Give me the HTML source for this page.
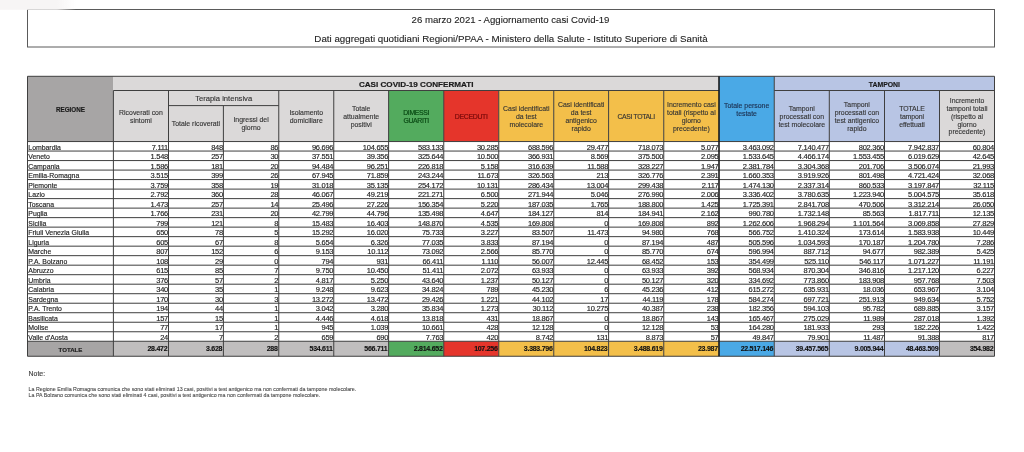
<!DOCTYPE html>
<html><head><meta charset="utf-8"><style>
html,body{margin:0;padding:0;background:#fff;}
body{width:1024px;height:452px;position:relative;overflow:hidden;font-family:"Liberation Sans",sans-serif;color:#222;-webkit-text-stroke:0.15px currentColor;}
svg{position:absolute;left:0;top:0;}
.c{position:absolute;display:flex;align-items:center;justify-content:center;text-align:center;box-sizing:border-box;}
.h{font-size:6.9px;line-height:7.8px;color:#333;padding-top:1.4px;-webkit-text-stroke:0.12px #333;}
.hb{font-weight:bold;color:#1a1a1a;}
.rn{position:absolute;left:28.3px;height:9.5px;line-height:12.9px;font-size:6.9px;color:#222;white-space:nowrap;}
.n{position:absolute;height:9.5px;line-height:12.1px;font-size:7.5px;letter-spacing:-0.27px;text-align:right;color:#222;white-space:nowrap;}
.tb{font-weight:bold;font-size:7px;color:#111;-webkit-text-stroke:0.12px #111;}
.t1{position:absolute;left:0;width:1024px;text-align:center;font-size:9.6px;color:#222;white-space:nowrap;-webkit-text-stroke:0.1px #222;}
.note{position:absolute;left:28.6px;white-space:nowrap;color:#444;-webkit-text-stroke:0.1px #555;}
</style></head><body><div id="wrap" style="position:absolute;left:0;top:0;width:1024px;height:452px;will-change:transform;">
<svg width="1024" height="452" viewBox="0 0 1024 452">
<defs><linearGradient id="g1" x1="0" x2="1" y1="0" y2="0"><stop offset="0" stop-color="#f7f5f5"/><stop offset="0.75" stop-color="#f7f5f5"/><stop offset="1" stop-color="#f7f5f5" stop-opacity="0"/></linearGradient></defs>
<rect x="27.5" y="9.5" width="967" height="37.5" fill="none" stroke="#5a5a5a" stroke-width="1"/>
<rect x="0" y="0" width="76" height="9.8" fill="url(#g1)"/>
<rect x="27.50" y="76.30" width="85.90" height="65.25" fill="#a7a5a5"/>
<rect x="113.40" y="76.30" width="605.60" height="14.20" fill="#dbd9d9"/>
<rect x="719.00" y="76.30" width="55.25" height="65.25" fill="#4aa9e6"/>
<rect x="774.25" y="76.30" width="220.25" height="14.20" fill="#b8c5e4"/>
<rect x="113.40" y="90.50" width="55.10" height="51.05" fill="#dbd9d9"/>
<rect x="168.50" y="90.50" width="54.90" height="51.05" fill="#dbd9d9"/>
<rect x="223.40" y="90.50" width="55.35" height="51.05" fill="#dbd9d9"/>
<rect x="278.75" y="90.50" width="55.00" height="51.05" fill="#dbd9d9"/>
<rect x="333.75" y="90.50" width="54.85" height="51.05" fill="#dbd9d9"/>
<rect x="388.60" y="90.50" width="55.15" height="51.05" fill="#53ab5e"/>
<rect x="443.75" y="90.50" width="55.00" height="51.05" fill="#e5352b"/>
<rect x="498.75" y="90.50" width="55.00" height="51.05" fill="#f3bf4a"/>
<rect x="553.75" y="90.50" width="54.85" height="51.05" fill="#f3bf4a"/>
<rect x="608.60" y="90.50" width="55.15" height="51.05" fill="#f3bf4a"/>
<rect x="663.75" y="90.50" width="55.25" height="51.05" fill="#f3bf4a"/>
<rect x="774.25" y="90.50" width="55.05" height="51.05" fill="#b8c5e4"/>
<rect x="829.30" y="90.50" width="55.20" height="51.05" fill="#b8c5e4"/>
<rect x="884.50" y="90.50" width="55.00" height="51.05" fill="#b8c5e4"/>
<rect x="939.50" y="90.50" width="55.00" height="51.05" fill="#dbd9d9"/>
<rect x="27.50" y="341.26" width="85.90" height="15.00" fill="#a7a5a5"/>
<rect x="113.40" y="341.26" width="55.10" height="15.00" fill="#c0bebe"/>
<rect x="168.50" y="341.26" width="54.90" height="15.00" fill="#c0bebe"/>
<rect x="223.40" y="341.26" width="55.35" height="15.00" fill="#c0bebe"/>
<rect x="278.75" y="341.26" width="55.00" height="15.00" fill="#c0bebe"/>
<rect x="333.75" y="341.26" width="54.85" height="15.00" fill="#c0bebe"/>
<rect x="388.60" y="341.26" width="55.15" height="15.00" fill="#53ab5e"/>
<rect x="443.75" y="341.26" width="55.00" height="15.00" fill="#e5352b"/>
<rect x="498.75" y="341.26" width="55.00" height="15.00" fill="#f3bf4a"/>
<rect x="553.75" y="341.26" width="54.85" height="15.00" fill="#f3bf4a"/>
<rect x="608.60" y="341.26" width="55.15" height="15.00" fill="#f3bf4a"/>
<rect x="663.75" y="341.26" width="55.25" height="15.00" fill="#f3bf4a"/>
<rect x="719.00" y="341.26" width="55.25" height="15.00" fill="#4aa9e6"/>
<rect x="774.25" y="341.26" width="55.05" height="15.00" fill="#b8c5e4"/>
<rect x="829.30" y="341.26" width="55.20" height="15.00" fill="#b8c5e4"/>
<rect x="884.50" y="341.26" width="55.00" height="15.00" fill="#b8c5e4"/>
<rect x="939.50" y="341.26" width="55.00" height="15.00" fill="#c0bebe"/>
<line x1="27.50" y1="76.30" x2="994.50" y2="76.30" stroke="#3f3f3f" stroke-width="1"/>
<line x1="27.50" y1="356.26" x2="994.50" y2="356.26" stroke="#3f3f3f" stroke-width="1"/>
<line x1="27.50" y1="76.30" x2="27.50" y2="356.26" stroke="#3f3f3f" stroke-width="1"/>
<line x1="994.50" y1="76.30" x2="994.50" y2="356.26" stroke="#3f3f3f" stroke-width="1"/>
<line x1="113.40" y1="90.50" x2="719.00" y2="90.50" stroke="#3f3f3f" stroke-width="1"/>
<line x1="774.25" y1="90.50" x2="994.50" y2="90.50" stroke="#3f3f3f" stroke-width="1"/>
<line x1="168.50" y1="105.60" x2="278.75" y2="105.60" stroke="#3f3f3f" stroke-width="1"/>
<line x1="27.50" y1="141.55" x2="994.50" y2="141.55" stroke="#3f3f3f" stroke-width="1"/>
<line x1="27.50" y1="151.06" x2="994.50" y2="151.06" stroke="#3f3f3f" stroke-width="1"/>
<line x1="27.50" y1="160.57" x2="994.50" y2="160.57" stroke="#3f3f3f" stroke-width="1"/>
<line x1="27.50" y1="170.08" x2="994.50" y2="170.08" stroke="#3f3f3f" stroke-width="1"/>
<line x1="27.50" y1="179.59" x2="994.50" y2="179.59" stroke="#3f3f3f" stroke-width="1"/>
<line x1="27.50" y1="189.10" x2="994.50" y2="189.10" stroke="#3f3f3f" stroke-width="1"/>
<line x1="27.50" y1="198.61" x2="994.50" y2="198.61" stroke="#3f3f3f" stroke-width="1"/>
<line x1="27.50" y1="208.12" x2="994.50" y2="208.12" stroke="#3f3f3f" stroke-width="1"/>
<line x1="27.50" y1="217.63" x2="994.50" y2="217.63" stroke="#3f3f3f" stroke-width="1"/>
<line x1="27.50" y1="227.14" x2="994.50" y2="227.14" stroke="#3f3f3f" stroke-width="1"/>
<line x1="27.50" y1="236.65" x2="994.50" y2="236.65" stroke="#3f3f3f" stroke-width="1"/>
<line x1="27.50" y1="246.16" x2="994.50" y2="246.16" stroke="#3f3f3f" stroke-width="1"/>
<line x1="27.50" y1="255.67" x2="994.50" y2="255.67" stroke="#3f3f3f" stroke-width="1"/>
<line x1="27.50" y1="265.18" x2="994.50" y2="265.18" stroke="#3f3f3f" stroke-width="1"/>
<line x1="27.50" y1="274.69" x2="994.50" y2="274.69" stroke="#3f3f3f" stroke-width="1"/>
<line x1="27.50" y1="284.20" x2="994.50" y2="284.20" stroke="#3f3f3f" stroke-width="1"/>
<line x1="27.50" y1="293.71" x2="994.50" y2="293.71" stroke="#3f3f3f" stroke-width="1"/>
<line x1="27.50" y1="303.22" x2="994.50" y2="303.22" stroke="#3f3f3f" stroke-width="1"/>
<line x1="27.50" y1="312.73" x2="994.50" y2="312.73" stroke="#3f3f3f" stroke-width="1"/>
<line x1="27.50" y1="322.24" x2="994.50" y2="322.24" stroke="#3f3f3f" stroke-width="1"/>
<line x1="27.50" y1="331.75" x2="994.50" y2="331.75" stroke="#3f3f3f" stroke-width="1"/>
<line x1="27.50" y1="341.26" x2="994.50" y2="341.26" stroke="#3f3f3f" stroke-width="1"/>
<line x1="113.40" y1="90.50" x2="113.40" y2="356.26" stroke="#3f3f3f" stroke-width="1"/>
<line x1="168.50" y1="90.50" x2="168.50" y2="356.26" stroke="#3f3f3f" stroke-width="1"/>
<line x1="223.40" y1="105.60" x2="223.40" y2="356.26" stroke="#3f3f3f" stroke-width="1"/>
<line x1="278.75" y1="90.50" x2="278.75" y2="356.26" stroke="#3f3f3f" stroke-width="1"/>
<line x1="333.75" y1="90.50" x2="333.75" y2="356.26" stroke="#3f3f3f" stroke-width="1"/>
<line x1="388.60" y1="90.50" x2="388.60" y2="356.26" stroke="#3f3f3f" stroke-width="1"/>
<line x1="443.75" y1="90.50" x2="443.75" y2="356.26" stroke="#3f3f3f" stroke-width="1"/>
<line x1="498.75" y1="90.50" x2="498.75" y2="356.26" stroke="#3f3f3f" stroke-width="1"/>
<line x1="553.75" y1="90.50" x2="553.75" y2="356.26" stroke="#3f3f3f" stroke-width="1"/>
<line x1="608.60" y1="90.50" x2="608.60" y2="356.26" stroke="#3f3f3f" stroke-width="1"/>
<line x1="663.75" y1="90.50" x2="663.75" y2="356.26" stroke="#3f3f3f" stroke-width="1"/>
<line x1="719.00" y1="76.30" x2="719.00" y2="356.26" stroke="#1a1a1a" stroke-width="1.6"/>
<line x1="774.25" y1="76.30" x2="774.25" y2="356.26" stroke="#3f3f3f" stroke-width="1"/>
<line x1="829.30" y1="90.50" x2="829.30" y2="356.26" stroke="#3f3f3f" stroke-width="1"/>
<line x1="884.50" y1="90.50" x2="884.50" y2="356.26" stroke="#3f3f3f" stroke-width="1"/>
<line x1="939.50" y1="90.50" x2="939.50" y2="356.26" stroke="#3f3f3f" stroke-width="1"/>
</svg>
<div class="t1" style="top:14px;left:-1.5px;line-height:12px;">26 marzo 2021 - Aggiornamento casi Covid-19</div>
<div class="t1" style="top:33px;left:-1px;line-height:12px;font-size:9.75px">Dati aggregati quotidiani Regioni/PPAA - Ministero della Salute - Istituto Superiore di Sanità</div>
<div class="c hb" style="left:27.50px;top:76.30px;width:85.90px;height:65.25px;font-size:6.3px;padding-top:1.6px">REGIONE</div>
<div class="c hb" style="left:113.40px;top:76.30px;width:605.60px;height:14.20px;font-size:8.1px;padding-top:2.2px;-webkit-text-stroke:0.2px #1a1a1a">CASI COVID-19 CONFERMATI</div>
<div class="c hb" style="left:774.25px;top:76.30px;width:220.25px;height:14.20px;font-size:6.9px;padding-top:2px">TAMPONI</div>
<div class="c h" style="left:168.50px;top:90.50px;width:110.25px;height:15.10px;font-size:7.6px">Terapia intensiva</div>
<div class="c h" style="left:113.40px;top:90.50px;width:55.10px;height:51.05px;">Ricoverati con<br>sintomi</div>
<div class="c h" style="left:168.50px;top:105.60px;width:54.90px;height:35.95px;">Totale ricoverati</div>
<div class="c h" style="left:223.40px;top:105.60px;width:55.35px;height:35.95px;">Ingressi del<br>giorno</div>
<div class="c h" style="left:278.75px;top:90.50px;width:55.00px;height:51.05px;">Isolamento<br>domiciliare</div>
<div class="c h" style="left:333.75px;top:90.50px;width:54.85px;height:51.05px;">Totale<br>attualmente<br>positivi</div>
<div class="c h" style="left:388.60px;top:90.50px;width:55.15px;height:51.05px;color:#0a4a14;letter-spacing:-0.35px;-webkit-text-stroke:0.2px #0a4a14">DIMESSI<br>GUARITI</div>
<div class="c h" style="left:443.75px;top:90.50px;width:55.00px;height:51.05px;color:#7a0a0a;letter-spacing:-0.3px;-webkit-text-stroke:0.2px #7a0a0a">DECEDUTI</div>
<div class="c h" style="left:498.75px;top:90.50px;width:55.00px;height:51.05px;">Casi identificati<br>da test<br>molecolare</div>
<div class="c h" style="left:553.75px;top:90.50px;width:54.85px;height:51.05px;">Casi identificati<br>da test<br>antigenico<br>rapido</div>
<div class="c h" style="left:608.60px;top:90.50px;width:55.15px;height:51.05px;letter-spacing:-0.35px">CASI TOTALI</div>
<div class="c h" style="left:663.75px;top:90.50px;width:55.25px;height:51.05px;">Incremento casi<br>totali (rispetto al<br>giorno<br>precedente)</div>
<div class="c h" style="left:719.00px;top:76.30px;width:55.25px;height:65.25px;color:#1c2f4f;-webkit-text-stroke:0.12px #1c2f4f">Totale persone<br>testate</div>
<div class="c h" style="left:774.25px;top:90.50px;width:55.05px;height:51.05px;">Tamponi<br>processati con<br>test molecolare</div>
<div class="c h" style="left:829.30px;top:90.50px;width:55.20px;height:51.05px;">Tamponi<br>processati con<br>test antigenico<br>rapido</div>
<div class="c h" style="left:884.50px;top:90.50px;width:55.00px;height:51.05px;letter-spacing:-0.1px">TOTALE<br>tamponi<br>effettuati</div>
<div class="c h" style="left:939.50px;top:90.50px;width:55.00px;height:51.05px;">Incremento<br>tamponi totali<br>(rispetto al<br>giorno<br>precedente)</div>
<div class="rn" style="top:141.55px">Lombardia</div>
<div class="n" style="left:113.40px;top:141.55px;width:54.60px">7.111</div>
<div class="n" style="left:168.50px;top:141.55px;width:54.40px">848</div>
<div class="n" style="left:223.40px;top:141.55px;width:54.85px">86</div>
<div class="n" style="left:278.75px;top:141.55px;width:54.50px">96.696</div>
<div class="n" style="left:333.75px;top:141.55px;width:54.35px">104.655</div>
<div class="n" style="left:388.60px;top:141.55px;width:54.65px">583.133</div>
<div class="n" style="left:443.75px;top:141.55px;width:54.50px">30.285</div>
<div class="n" style="left:498.75px;top:141.55px;width:54.50px">688.596</div>
<div class="n" style="left:553.75px;top:141.55px;width:54.35px">29.477</div>
<div class="n" style="left:608.60px;top:141.55px;width:54.65px">718.073</div>
<div class="n" style="left:663.75px;top:141.55px;width:54.75px">5.077</div>
<div class="n" style="left:719.00px;top:141.55px;width:54.75px">3.463.092</div>
<div class="n" style="left:774.25px;top:141.55px;width:54.55px">7.140.477</div>
<div class="n" style="left:829.30px;top:141.55px;width:54.70px">802.360</div>
<div class="n" style="left:884.50px;top:141.55px;width:54.50px">7.942.837</div>
<div class="n" style="left:939.50px;top:141.55px;width:54.50px">60.804</div>
<div class="rn" style="top:151.06px">Veneto</div>
<div class="n" style="left:113.40px;top:151.06px;width:54.60px">1.548</div>
<div class="n" style="left:168.50px;top:151.06px;width:54.40px">257</div>
<div class="n" style="left:223.40px;top:151.06px;width:54.85px">30</div>
<div class="n" style="left:278.75px;top:151.06px;width:54.50px">37.551</div>
<div class="n" style="left:333.75px;top:151.06px;width:54.35px">39.356</div>
<div class="n" style="left:388.60px;top:151.06px;width:54.65px">325.644</div>
<div class="n" style="left:443.75px;top:151.06px;width:54.50px">10.500</div>
<div class="n" style="left:498.75px;top:151.06px;width:54.50px">366.931</div>
<div class="n" style="left:553.75px;top:151.06px;width:54.35px">8.569</div>
<div class="n" style="left:608.60px;top:151.06px;width:54.65px">375.500</div>
<div class="n" style="left:663.75px;top:151.06px;width:54.75px">2.095</div>
<div class="n" style="left:719.00px;top:151.06px;width:54.75px">1.533.645</div>
<div class="n" style="left:774.25px;top:151.06px;width:54.55px">4.466.174</div>
<div class="n" style="left:829.30px;top:151.06px;width:54.70px">1.553.455</div>
<div class="n" style="left:884.50px;top:151.06px;width:54.50px">6.019.629</div>
<div class="n" style="left:939.50px;top:151.06px;width:54.50px">42.645</div>
<div class="rn" style="top:160.57px">Campania</div>
<div class="n" style="left:113.40px;top:160.57px;width:54.60px">1.586</div>
<div class="n" style="left:168.50px;top:160.57px;width:54.40px">181</div>
<div class="n" style="left:223.40px;top:160.57px;width:54.85px">20</div>
<div class="n" style="left:278.75px;top:160.57px;width:54.50px">94.484</div>
<div class="n" style="left:333.75px;top:160.57px;width:54.35px">96.251</div>
<div class="n" style="left:388.60px;top:160.57px;width:54.65px">226.818</div>
<div class="n" style="left:443.75px;top:160.57px;width:54.50px">5.158</div>
<div class="n" style="left:498.75px;top:160.57px;width:54.50px">316.639</div>
<div class="n" style="left:553.75px;top:160.57px;width:54.35px">11.588</div>
<div class="n" style="left:608.60px;top:160.57px;width:54.65px">328.227</div>
<div class="n" style="left:663.75px;top:160.57px;width:54.75px">1.947</div>
<div class="n" style="left:719.00px;top:160.57px;width:54.75px">2.381.784</div>
<div class="n" style="left:774.25px;top:160.57px;width:54.55px">3.304.368</div>
<div class="n" style="left:829.30px;top:160.57px;width:54.70px">201.706</div>
<div class="n" style="left:884.50px;top:160.57px;width:54.50px">3.506.074</div>
<div class="n" style="left:939.50px;top:160.57px;width:54.50px">21.993</div>
<div class="rn" style="top:170.08px">Emilia-Romagna</div>
<div class="n" style="left:113.40px;top:170.08px;width:54.60px">3.515</div>
<div class="n" style="left:168.50px;top:170.08px;width:54.40px">399</div>
<div class="n" style="left:223.40px;top:170.08px;width:54.85px">26</div>
<div class="n" style="left:278.75px;top:170.08px;width:54.50px">67.945</div>
<div class="n" style="left:333.75px;top:170.08px;width:54.35px">71.859</div>
<div class="n" style="left:388.60px;top:170.08px;width:54.65px">243.244</div>
<div class="n" style="left:443.75px;top:170.08px;width:54.50px">11.673</div>
<div class="n" style="left:498.75px;top:170.08px;width:54.50px">326.563</div>
<div class="n" style="left:553.75px;top:170.08px;width:54.35px">213</div>
<div class="n" style="left:608.60px;top:170.08px;width:54.65px">326.776</div>
<div class="n" style="left:663.75px;top:170.08px;width:54.75px">2.391</div>
<div class="n" style="left:719.00px;top:170.08px;width:54.75px">1.660.353</div>
<div class="n" style="left:774.25px;top:170.08px;width:54.55px">3.919.926</div>
<div class="n" style="left:829.30px;top:170.08px;width:54.70px">801.498</div>
<div class="n" style="left:884.50px;top:170.08px;width:54.50px">4.721.424</div>
<div class="n" style="left:939.50px;top:170.08px;width:54.50px">32.068</div>
<div class="rn" style="top:179.59px">Piemonte</div>
<div class="n" style="left:113.40px;top:179.59px;width:54.60px">3.759</div>
<div class="n" style="left:168.50px;top:179.59px;width:54.40px">358</div>
<div class="n" style="left:223.40px;top:179.59px;width:54.85px">19</div>
<div class="n" style="left:278.75px;top:179.59px;width:54.50px">31.018</div>
<div class="n" style="left:333.75px;top:179.59px;width:54.35px">35.135</div>
<div class="n" style="left:388.60px;top:179.59px;width:54.65px">254.172</div>
<div class="n" style="left:443.75px;top:179.59px;width:54.50px">10.131</div>
<div class="n" style="left:498.75px;top:179.59px;width:54.50px">286.434</div>
<div class="n" style="left:553.75px;top:179.59px;width:54.35px">13.004</div>
<div class="n" style="left:608.60px;top:179.59px;width:54.65px">299.438</div>
<div class="n" style="left:663.75px;top:179.59px;width:54.75px">2.117</div>
<div class="n" style="left:719.00px;top:179.59px;width:54.75px">1.474.130</div>
<div class="n" style="left:774.25px;top:179.59px;width:54.55px">2.337.314</div>
<div class="n" style="left:829.30px;top:179.59px;width:54.70px">860.533</div>
<div class="n" style="left:884.50px;top:179.59px;width:54.50px">3.197.847</div>
<div class="n" style="left:939.50px;top:179.59px;width:54.50px">32.115</div>
<div class="rn" style="top:189.10px">Lazio</div>
<div class="n" style="left:113.40px;top:189.10px;width:54.60px">2.792</div>
<div class="n" style="left:168.50px;top:189.10px;width:54.40px">360</div>
<div class="n" style="left:223.40px;top:189.10px;width:54.85px">28</div>
<div class="n" style="left:278.75px;top:189.10px;width:54.50px">46.067</div>
<div class="n" style="left:333.75px;top:189.10px;width:54.35px">49.219</div>
<div class="n" style="left:388.60px;top:189.10px;width:54.65px">221.271</div>
<div class="n" style="left:443.75px;top:189.10px;width:54.50px">6.500</div>
<div class="n" style="left:498.75px;top:189.10px;width:54.50px">271.944</div>
<div class="n" style="left:553.75px;top:189.10px;width:54.35px">5.046</div>
<div class="n" style="left:608.60px;top:189.10px;width:54.65px">276.990</div>
<div class="n" style="left:663.75px;top:189.10px;width:54.75px">2.006</div>
<div class="n" style="left:719.00px;top:189.10px;width:54.75px">3.336.402</div>
<div class="n" style="left:774.25px;top:189.10px;width:54.55px">3.780.635</div>
<div class="n" style="left:829.30px;top:189.10px;width:54.70px">1.223.940</div>
<div class="n" style="left:884.50px;top:189.10px;width:54.50px">5.004.575</div>
<div class="n" style="left:939.50px;top:189.10px;width:54.50px">35.618</div>
<div class="rn" style="top:198.61px">Toscana</div>
<div class="n" style="left:113.40px;top:198.61px;width:54.60px">1.473</div>
<div class="n" style="left:168.50px;top:198.61px;width:54.40px">257</div>
<div class="n" style="left:223.40px;top:198.61px;width:54.85px">14</div>
<div class="n" style="left:278.75px;top:198.61px;width:54.50px">25.496</div>
<div class="n" style="left:333.75px;top:198.61px;width:54.35px">27.226</div>
<div class="n" style="left:388.60px;top:198.61px;width:54.65px">156.354</div>
<div class="n" style="left:443.75px;top:198.61px;width:54.50px">5.220</div>
<div class="n" style="left:498.75px;top:198.61px;width:54.50px">187.035</div>
<div class="n" style="left:553.75px;top:198.61px;width:54.35px">1.765</div>
<div class="n" style="left:608.60px;top:198.61px;width:54.65px">188.800</div>
<div class="n" style="left:663.75px;top:198.61px;width:54.75px">1.425</div>
<div class="n" style="left:719.00px;top:198.61px;width:54.75px">1.725.391</div>
<div class="n" style="left:774.25px;top:198.61px;width:54.55px">2.841.708</div>
<div class="n" style="left:829.30px;top:198.61px;width:54.70px">470.506</div>
<div class="n" style="left:884.50px;top:198.61px;width:54.50px">3.312.214</div>
<div class="n" style="left:939.50px;top:198.61px;width:54.50px">26.050</div>
<div class="rn" style="top:208.12px">Puglia</div>
<div class="n" style="left:113.40px;top:208.12px;width:54.60px">1.766</div>
<div class="n" style="left:168.50px;top:208.12px;width:54.40px">231</div>
<div class="n" style="left:223.40px;top:208.12px;width:54.85px">20</div>
<div class="n" style="left:278.75px;top:208.12px;width:54.50px">42.799</div>
<div class="n" style="left:333.75px;top:208.12px;width:54.35px">44.796</div>
<div class="n" style="left:388.60px;top:208.12px;width:54.65px">135.498</div>
<div class="n" style="left:443.75px;top:208.12px;width:54.50px">4.647</div>
<div class="n" style="left:498.75px;top:208.12px;width:54.50px">184.127</div>
<div class="n" style="left:553.75px;top:208.12px;width:54.35px">814</div>
<div class="n" style="left:608.60px;top:208.12px;width:54.65px">184.941</div>
<div class="n" style="left:663.75px;top:208.12px;width:54.75px">2.162</div>
<div class="n" style="left:719.00px;top:208.12px;width:54.75px">990.780</div>
<div class="n" style="left:774.25px;top:208.12px;width:54.55px">1.732.148</div>
<div class="n" style="left:829.30px;top:208.12px;width:54.70px">85.563</div>
<div class="n" style="left:884.50px;top:208.12px;width:54.50px">1.817.711</div>
<div class="n" style="left:939.50px;top:208.12px;width:54.50px">12.135</div>
<div class="rn" style="top:217.63px">Sicilia</div>
<div class="n" style="left:113.40px;top:217.63px;width:54.60px">799</div>
<div class="n" style="left:168.50px;top:217.63px;width:54.40px">121</div>
<div class="n" style="left:223.40px;top:217.63px;width:54.85px">8</div>
<div class="n" style="left:278.75px;top:217.63px;width:54.50px">15.483</div>
<div class="n" style="left:333.75px;top:217.63px;width:54.35px">16.403</div>
<div class="n" style="left:388.60px;top:217.63px;width:54.65px">148.870</div>
<div class="n" style="left:443.75px;top:217.63px;width:54.50px">4.535</div>
<div class="n" style="left:498.75px;top:217.63px;width:54.50px">169.808</div>
<div class="n" style="left:553.75px;top:217.63px;width:54.35px">0</div>
<div class="n" style="left:608.60px;top:217.63px;width:54.65px">169.808</div>
<div class="n" style="left:663.75px;top:217.63px;width:54.75px">892</div>
<div class="n" style="left:719.00px;top:217.63px;width:54.75px">1.262.606</div>
<div class="n" style="left:774.25px;top:217.63px;width:54.55px">1.968.294</div>
<div class="n" style="left:829.30px;top:217.63px;width:54.70px">1.101.564</div>
<div class="n" style="left:884.50px;top:217.63px;width:54.50px">3.069.858</div>
<div class="n" style="left:939.50px;top:217.63px;width:54.50px">27.829</div>
<div class="rn" style="top:227.14px">Friuli Venezia Giulia</div>
<div class="n" style="left:113.40px;top:227.14px;width:54.60px">650</div>
<div class="n" style="left:168.50px;top:227.14px;width:54.40px">78</div>
<div class="n" style="left:223.40px;top:227.14px;width:54.85px">5</div>
<div class="n" style="left:278.75px;top:227.14px;width:54.50px">15.292</div>
<div class="n" style="left:333.75px;top:227.14px;width:54.35px">16.020</div>
<div class="n" style="left:388.60px;top:227.14px;width:54.65px">75.733</div>
<div class="n" style="left:443.75px;top:227.14px;width:54.50px">3.227</div>
<div class="n" style="left:498.75px;top:227.14px;width:54.50px">83.507</div>
<div class="n" style="left:553.75px;top:227.14px;width:54.35px">11.473</div>
<div class="n" style="left:608.60px;top:227.14px;width:54.65px">94.980</div>
<div class="n" style="left:663.75px;top:227.14px;width:54.75px">768</div>
<div class="n" style="left:719.00px;top:227.14px;width:54.75px">566.752</div>
<div class="n" style="left:774.25px;top:227.14px;width:54.55px">1.410.324</div>
<div class="n" style="left:829.30px;top:227.14px;width:54.70px">173.614</div>
<div class="n" style="left:884.50px;top:227.14px;width:54.50px">1.583.938</div>
<div class="n" style="left:939.50px;top:227.14px;width:54.50px">10.449</div>
<div class="rn" style="top:236.65px">Liguria</div>
<div class="n" style="left:113.40px;top:236.65px;width:54.60px">605</div>
<div class="n" style="left:168.50px;top:236.65px;width:54.40px">67</div>
<div class="n" style="left:223.40px;top:236.65px;width:54.85px">8</div>
<div class="n" style="left:278.75px;top:236.65px;width:54.50px">5.654</div>
<div class="n" style="left:333.75px;top:236.65px;width:54.35px">6.326</div>
<div class="n" style="left:388.60px;top:236.65px;width:54.65px">77.035</div>
<div class="n" style="left:443.75px;top:236.65px;width:54.50px">3.833</div>
<div class="n" style="left:498.75px;top:236.65px;width:54.50px">87.194</div>
<div class="n" style="left:553.75px;top:236.65px;width:54.35px">0</div>
<div class="n" style="left:608.60px;top:236.65px;width:54.65px">87.194</div>
<div class="n" style="left:663.75px;top:236.65px;width:54.75px">487</div>
<div class="n" style="left:719.00px;top:236.65px;width:54.75px">505.596</div>
<div class="n" style="left:774.25px;top:236.65px;width:54.55px">1.034.593</div>
<div class="n" style="left:829.30px;top:236.65px;width:54.70px">170.187</div>
<div class="n" style="left:884.50px;top:236.65px;width:54.50px">1.204.780</div>
<div class="n" style="left:939.50px;top:236.65px;width:54.50px">7.286</div>
<div class="rn" style="top:246.16px">Marche</div>
<div class="n" style="left:113.40px;top:246.16px;width:54.60px">807</div>
<div class="n" style="left:168.50px;top:246.16px;width:54.40px">152</div>
<div class="n" style="left:223.40px;top:246.16px;width:54.85px">6</div>
<div class="n" style="left:278.75px;top:246.16px;width:54.50px">9.153</div>
<div class="n" style="left:333.75px;top:246.16px;width:54.35px">10.112</div>
<div class="n" style="left:388.60px;top:246.16px;width:54.65px">73.092</div>
<div class="n" style="left:443.75px;top:246.16px;width:54.50px">2.566</div>
<div class="n" style="left:498.75px;top:246.16px;width:54.50px">85.770</div>
<div class="n" style="left:553.75px;top:246.16px;width:54.35px">0</div>
<div class="n" style="left:608.60px;top:246.16px;width:54.65px">85.770</div>
<div class="n" style="left:663.75px;top:246.16px;width:54.75px">674</div>
<div class="n" style="left:719.00px;top:246.16px;width:54.75px">596.994</div>
<div class="n" style="left:774.25px;top:246.16px;width:54.55px">887.712</div>
<div class="n" style="left:829.30px;top:246.16px;width:54.70px">94.677</div>
<div class="n" style="left:884.50px;top:246.16px;width:54.50px">982.389</div>
<div class="n" style="left:939.50px;top:246.16px;width:54.50px">5.425</div>
<div class="rn" style="top:255.67px">P.A. Bolzano</div>
<div class="n" style="left:113.40px;top:255.67px;width:54.60px">108</div>
<div class="n" style="left:168.50px;top:255.67px;width:54.40px">29</div>
<div class="n" style="left:223.40px;top:255.67px;width:54.85px">0</div>
<div class="n" style="left:278.75px;top:255.67px;width:54.50px">794</div>
<div class="n" style="left:333.75px;top:255.67px;width:54.35px">931</div>
<div class="n" style="left:388.60px;top:255.67px;width:54.65px">66.411</div>
<div class="n" style="left:443.75px;top:255.67px;width:54.50px">1.110</div>
<div class="n" style="left:498.75px;top:255.67px;width:54.50px">56.007</div>
<div class="n" style="left:553.75px;top:255.67px;width:54.35px">12.445</div>
<div class="n" style="left:608.60px;top:255.67px;width:54.65px">68.452</div>
<div class="n" style="left:663.75px;top:255.67px;width:54.75px">153</div>
<div class="n" style="left:719.00px;top:255.67px;width:54.75px">354.499</div>
<div class="n" style="left:774.25px;top:255.67px;width:54.55px">525.110</div>
<div class="n" style="left:829.30px;top:255.67px;width:54.70px">546.117</div>
<div class="n" style="left:884.50px;top:255.67px;width:54.50px">1.071.227</div>
<div class="n" style="left:939.50px;top:255.67px;width:54.50px">11.191</div>
<div class="rn" style="top:265.18px">Abruzzo</div>
<div class="n" style="left:113.40px;top:265.18px;width:54.60px">615</div>
<div class="n" style="left:168.50px;top:265.18px;width:54.40px">85</div>
<div class="n" style="left:223.40px;top:265.18px;width:54.85px">7</div>
<div class="n" style="left:278.75px;top:265.18px;width:54.50px">9.750</div>
<div class="n" style="left:333.75px;top:265.18px;width:54.35px">10.450</div>
<div class="n" style="left:388.60px;top:265.18px;width:54.65px">51.411</div>
<div class="n" style="left:443.75px;top:265.18px;width:54.50px">2.072</div>
<div class="n" style="left:498.75px;top:265.18px;width:54.50px">63.933</div>
<div class="n" style="left:553.75px;top:265.18px;width:54.35px">0</div>
<div class="n" style="left:608.60px;top:265.18px;width:54.65px">63.933</div>
<div class="n" style="left:663.75px;top:265.18px;width:54.75px">392</div>
<div class="n" style="left:719.00px;top:265.18px;width:54.75px">568.934</div>
<div class="n" style="left:774.25px;top:265.18px;width:54.55px">870.304</div>
<div class="n" style="left:829.30px;top:265.18px;width:54.70px">346.816</div>
<div class="n" style="left:884.50px;top:265.18px;width:54.50px">1.217.120</div>
<div class="n" style="left:939.50px;top:265.18px;width:54.50px">6.227</div>
<div class="rn" style="top:274.69px">Umbria</div>
<div class="n" style="left:113.40px;top:274.69px;width:54.60px">376</div>
<div class="n" style="left:168.50px;top:274.69px;width:54.40px">57</div>
<div class="n" style="left:223.40px;top:274.69px;width:54.85px">2</div>
<div class="n" style="left:278.75px;top:274.69px;width:54.50px">4.817</div>
<div class="n" style="left:333.75px;top:274.69px;width:54.35px">5.250</div>
<div class="n" style="left:388.60px;top:274.69px;width:54.65px">43.640</div>
<div class="n" style="left:443.75px;top:274.69px;width:54.50px">1.237</div>
<div class="n" style="left:498.75px;top:274.69px;width:54.50px">50.127</div>
<div class="n" style="left:553.75px;top:274.69px;width:54.35px">0</div>
<div class="n" style="left:608.60px;top:274.69px;width:54.65px">50.127</div>
<div class="n" style="left:663.75px;top:274.69px;width:54.75px">320</div>
<div class="n" style="left:719.00px;top:274.69px;width:54.75px">334.692</div>
<div class="n" style="left:774.25px;top:274.69px;width:54.55px">773.860</div>
<div class="n" style="left:829.30px;top:274.69px;width:54.70px">183.908</div>
<div class="n" style="left:884.50px;top:274.69px;width:54.50px">957.768</div>
<div class="n" style="left:939.50px;top:274.69px;width:54.50px">7.503</div>
<div class="rn" style="top:284.20px">Calabria</div>
<div class="n" style="left:113.40px;top:284.20px;width:54.60px">340</div>
<div class="n" style="left:168.50px;top:284.20px;width:54.40px">35</div>
<div class="n" style="left:223.40px;top:284.20px;width:54.85px">1</div>
<div class="n" style="left:278.75px;top:284.20px;width:54.50px">9.248</div>
<div class="n" style="left:333.75px;top:284.20px;width:54.35px">9.623</div>
<div class="n" style="left:388.60px;top:284.20px;width:54.65px">34.824</div>
<div class="n" style="left:443.75px;top:284.20px;width:54.50px">789</div>
<div class="n" style="left:498.75px;top:284.20px;width:54.50px">45.230</div>
<div class="n" style="left:553.75px;top:284.20px;width:54.35px">6</div>
<div class="n" style="left:608.60px;top:284.20px;width:54.65px">45.236</div>
<div class="n" style="left:663.75px;top:284.20px;width:54.75px">412</div>
<div class="n" style="left:719.00px;top:284.20px;width:54.75px">615.272</div>
<div class="n" style="left:774.25px;top:284.20px;width:54.55px">635.931</div>
<div class="n" style="left:829.30px;top:284.20px;width:54.70px">18.036</div>
<div class="n" style="left:884.50px;top:284.20px;width:54.50px">653.967</div>
<div class="n" style="left:939.50px;top:284.20px;width:54.50px">3.104</div>
<div class="rn" style="top:293.71px">Sardegna</div>
<div class="n" style="left:113.40px;top:293.71px;width:54.60px">170</div>
<div class="n" style="left:168.50px;top:293.71px;width:54.40px">30</div>
<div class="n" style="left:223.40px;top:293.71px;width:54.85px">3</div>
<div class="n" style="left:278.75px;top:293.71px;width:54.50px">13.272</div>
<div class="n" style="left:333.75px;top:293.71px;width:54.35px">13.472</div>
<div class="n" style="left:388.60px;top:293.71px;width:54.65px">29.426</div>
<div class="n" style="left:443.75px;top:293.71px;width:54.50px">1.221</div>
<div class="n" style="left:498.75px;top:293.71px;width:54.50px">44.102</div>
<div class="n" style="left:553.75px;top:293.71px;width:54.35px">17</div>
<div class="n" style="left:608.60px;top:293.71px;width:54.65px">44.119</div>
<div class="n" style="left:663.75px;top:293.71px;width:54.75px">178</div>
<div class="n" style="left:719.00px;top:293.71px;width:54.75px">584.274</div>
<div class="n" style="left:774.25px;top:293.71px;width:54.55px">697.721</div>
<div class="n" style="left:829.30px;top:293.71px;width:54.70px">251.913</div>
<div class="n" style="left:884.50px;top:293.71px;width:54.50px">949.634</div>
<div class="n" style="left:939.50px;top:293.71px;width:54.50px">5.752</div>
<div class="rn" style="top:303.22px">P.A. Trento</div>
<div class="n" style="left:113.40px;top:303.22px;width:54.60px">194</div>
<div class="n" style="left:168.50px;top:303.22px;width:54.40px">44</div>
<div class="n" style="left:223.40px;top:303.22px;width:54.85px">1</div>
<div class="n" style="left:278.75px;top:303.22px;width:54.50px">3.042</div>
<div class="n" style="left:333.75px;top:303.22px;width:54.35px">3.280</div>
<div class="n" style="left:388.60px;top:303.22px;width:54.65px">35.834</div>
<div class="n" style="left:443.75px;top:303.22px;width:54.50px">1.273</div>
<div class="n" style="left:498.75px;top:303.22px;width:54.50px">30.112</div>
<div class="n" style="left:553.75px;top:303.22px;width:54.35px">10.275</div>
<div class="n" style="left:608.60px;top:303.22px;width:54.65px">40.387</div>
<div class="n" style="left:663.75px;top:303.22px;width:54.75px">238</div>
<div class="n" style="left:719.00px;top:303.22px;width:54.75px">182.356</div>
<div class="n" style="left:774.25px;top:303.22px;width:54.55px">594.103</div>
<div class="n" style="left:829.30px;top:303.22px;width:54.70px">95.782</div>
<div class="n" style="left:884.50px;top:303.22px;width:54.50px">689.885</div>
<div class="n" style="left:939.50px;top:303.22px;width:54.50px">3.157</div>
<div class="rn" style="top:312.73px">Basilicata</div>
<div class="n" style="left:113.40px;top:312.73px;width:54.60px">157</div>
<div class="n" style="left:168.50px;top:312.73px;width:54.40px">15</div>
<div class="n" style="left:223.40px;top:312.73px;width:54.85px">1</div>
<div class="n" style="left:278.75px;top:312.73px;width:54.50px">4.446</div>
<div class="n" style="left:333.75px;top:312.73px;width:54.35px">4.618</div>
<div class="n" style="left:388.60px;top:312.73px;width:54.65px">13.818</div>
<div class="n" style="left:443.75px;top:312.73px;width:54.50px">431</div>
<div class="n" style="left:498.75px;top:312.73px;width:54.50px">18.867</div>
<div class="n" style="left:553.75px;top:312.73px;width:54.35px">0</div>
<div class="n" style="left:608.60px;top:312.73px;width:54.65px">18.867</div>
<div class="n" style="left:663.75px;top:312.73px;width:54.75px">143</div>
<div class="n" style="left:719.00px;top:312.73px;width:54.75px">165.467</div>
<div class="n" style="left:774.25px;top:312.73px;width:54.55px">275.029</div>
<div class="n" style="left:829.30px;top:312.73px;width:54.70px">11.989</div>
<div class="n" style="left:884.50px;top:312.73px;width:54.50px">287.018</div>
<div class="n" style="left:939.50px;top:312.73px;width:54.50px">1.392</div>
<div class="rn" style="top:322.24px">Molise</div>
<div class="n" style="left:113.40px;top:322.24px;width:54.60px">77</div>
<div class="n" style="left:168.50px;top:322.24px;width:54.40px">17</div>
<div class="n" style="left:223.40px;top:322.24px;width:54.85px">1</div>
<div class="n" style="left:278.75px;top:322.24px;width:54.50px">945</div>
<div class="n" style="left:333.75px;top:322.24px;width:54.35px">1.039</div>
<div class="n" style="left:388.60px;top:322.24px;width:54.65px">10.661</div>
<div class="n" style="left:443.75px;top:322.24px;width:54.50px">428</div>
<div class="n" style="left:498.75px;top:322.24px;width:54.50px">12.128</div>
<div class="n" style="left:553.75px;top:322.24px;width:54.35px">0</div>
<div class="n" style="left:608.60px;top:322.24px;width:54.65px">12.128</div>
<div class="n" style="left:663.75px;top:322.24px;width:54.75px">53</div>
<div class="n" style="left:719.00px;top:322.24px;width:54.75px">164.280</div>
<div class="n" style="left:774.25px;top:322.24px;width:54.55px">181.933</div>
<div class="n" style="left:829.30px;top:322.24px;width:54.70px">293</div>
<div class="n" style="left:884.50px;top:322.24px;width:54.50px">182.226</div>
<div class="n" style="left:939.50px;top:322.24px;width:54.50px">1.422</div>
<div class="rn" style="top:331.75px">Valle d'Aosta</div>
<div class="n" style="left:113.40px;top:331.75px;width:54.60px">24</div>
<div class="n" style="left:168.50px;top:331.75px;width:54.40px">7</div>
<div class="n" style="left:223.40px;top:331.75px;width:54.85px">2</div>
<div class="n" style="left:278.75px;top:331.75px;width:54.50px">659</div>
<div class="n" style="left:333.75px;top:331.75px;width:54.35px">690</div>
<div class="n" style="left:388.60px;top:331.75px;width:54.65px">7.763</div>
<div class="n" style="left:443.75px;top:331.75px;width:54.50px">420</div>
<div class="n" style="left:498.75px;top:331.75px;width:54.50px">8.742</div>
<div class="n" style="left:553.75px;top:331.75px;width:54.35px">131</div>
<div class="n" style="left:608.60px;top:331.75px;width:54.65px">8.873</div>
<div class="n" style="left:663.75px;top:331.75px;width:54.75px">57</div>
<div class="n" style="left:719.00px;top:331.75px;width:54.75px">49.847</div>
<div class="n" style="left:774.25px;top:331.75px;width:54.55px">79.901</div>
<div class="n" style="left:829.30px;top:331.75px;width:54.70px">11.487</div>
<div class="n" style="left:884.50px;top:331.75px;width:54.50px">91.388</div>
<div class="n" style="left:939.50px;top:331.75px;width:54.50px">817</div>
<div class="c hb" style="left:27.50px;top:341.26px;width:85.90px;height:15px;font-size:6.1px;padding-top:1px">TOTALE</div>
<div class="n tb" style="left:113.40px;top:342.96px;width:53.90px">28.472</div>
<div class="n tb" style="left:168.50px;top:342.96px;width:53.70px">3.628</div>
<div class="n tb" style="left:223.40px;top:342.96px;width:54.15px">288</div>
<div class="n tb" style="left:278.75px;top:342.96px;width:53.80px">534.611</div>
<div class="n tb" style="left:333.75px;top:342.96px;width:53.65px">566.711</div>
<div class="n tb" style="left:388.60px;top:342.96px;width:53.95px">2.814.652</div>
<div class="n tb" style="left:443.75px;top:342.96px;width:53.80px">107.256</div>
<div class="n tb" style="left:498.75px;top:342.96px;width:53.80px">3.383.796</div>
<div class="n tb" style="left:553.75px;top:342.96px;width:53.65px">104.823</div>
<div class="n tb" style="left:608.60px;top:342.96px;width:53.95px">3.488.619</div>
<div class="n tb" style="left:663.75px;top:342.96px;width:54.05px">23.987</div>
<div class="n tb" style="left:719.00px;top:342.96px;width:54.05px">22.517.146</div>
<div class="n tb" style="left:774.25px;top:342.96px;width:53.85px">39.457.565</div>
<div class="n tb" style="left:829.30px;top:342.96px;width:54.00px">9.005.944</div>
<div class="n tb" style="left:884.50px;top:342.96px;width:53.80px">48.463.509</div>
<div class="n tb" style="left:939.50px;top:342.96px;width:53.80px">354.982</div>
<div class="note" style="top:369px;font-size:6.9px;line-height:9px;color:#444;-webkit-text-stroke:0.15px #444">Note:</div>
<div class="note" style="top:387.3px;font-size:5.3px;line-height:5.6px">La Regione Emilia Romagna comunica che sono stati eliminati 13 casi, positivi a test antigenico ma non confermati da tampone molecolare.<br>La PA Bolzano comunica che sono stati eliminati 4 casi, positivi a test antigenico ma non confermati da tampone molecolare.</div>
</div></body></html>
